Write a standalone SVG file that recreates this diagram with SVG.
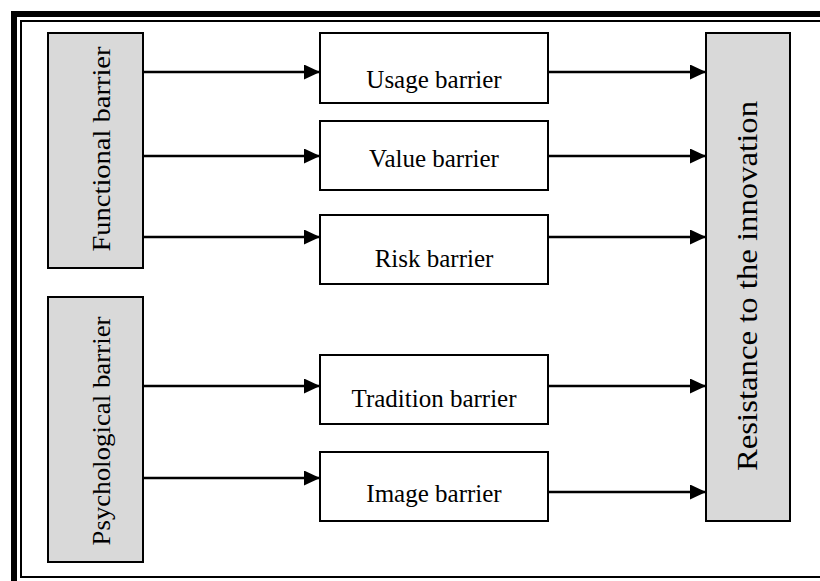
<svg xmlns="http://www.w3.org/2000/svg" width="820" height="581" viewBox="0 0 820 581">
<style>
.gray{fill:#d9d9d9;stroke:#000;stroke-width:2}
.white{fill:#fff;stroke:#000;stroke-width:2}
.lbl{font-family:"Liberation Serif","Times New Roman",serif;fill:#000;text-anchor:middle}
.h{font-size:25px}
.conn line{stroke:#000;stroke-width:2.4;marker-end:url(#ah)}
</style>
<defs>
<marker id="ah" markerUnits="userSpaceOnUse" markerWidth="16" markerHeight="16" refX="16" refY="7.5" orient="auto">
<path d="M0,0 L16,7.5 L0,15 Z" fill="#000"/>
</marker>
</defs>
<rect width="820" height="581" fill="#fff"/>
<rect x="14" y="14" width="900" height="900" fill="none" stroke="#000" stroke-width="6"/>
<rect x="21" y="21" width="900" height="556" fill="none" stroke="#000" stroke-width="2"/>

<g id="functional">
<rect class="gray" x="48" y="33" width="95" height="235"/>
<text class="lbl" font-size="25" transform="translate(110,149) rotate(-90)" textLength="205" lengthAdjust="spacingAndGlyphs">Functional barrier</text>
</g>
<g id="psychological">
<rect class="gray" x="48" y="297" width="95" height="265"/>
<text class="lbl" font-size="25" transform="translate(110,431) rotate(-90)" textLength="229" lengthAdjust="spacingAndGlyphs">Psychological barrier</text>
</g>
<g id="resistance">
<rect class="gray" x="706" y="33" width="84" height="488"/>
<text class="lbl" font-size="29" transform="translate(757,286) rotate(-90)" textLength="370" lengthAdjust="spacingAndGlyphs">Resistance to the innovation</text>
</g>
<g id="usage">
<rect class="white" x="320" y="33" width="228" height="70"/>
<text class="lbl h" x="434" y="88">Usage barrier</text>
</g>
<g id="value">
<rect class="white" x="320" y="121" width="228" height="69"/>
<text class="lbl h" x="434" y="167">Value barrier</text>
</g>
<g id="risk">
<rect class="white" x="320" y="215" width="228" height="69"/>
<text class="lbl h" x="434" y="267">Risk barrier</text>
</g>
<g id="tradition">
<rect class="white" x="320" y="355" width="228" height="69"/>
<text class="lbl h" x="434" y="407">Tradition barrier</text>
</g>
<g id="image">
<rect class="white" x="320" y="452" width="228" height="69"/>
<text class="lbl h" x="434" y="502">Image barrier</text>
</g>

<g id="connectors" class="conn">
<line x1="143" y1="72" x2="320" y2="72"/>
<line x1="143" y1="156" x2="320" y2="156"/>
<line x1="143" y1="237" x2="320" y2="237"/>
<line x1="143" y1="386" x2="320" y2="386"/>
<line x1="143" y1="478" x2="320" y2="478"/>
<line x1="548" y1="72" x2="706" y2="72"/>
<line x1="548" y1="156" x2="706" y2="156"/>
<line x1="548" y1="237" x2="706" y2="237"/>
<line x1="548" y1="386" x2="706" y2="386"/>
<line x1="548" y1="492" x2="706" y2="492"/>
</g>
</svg>
